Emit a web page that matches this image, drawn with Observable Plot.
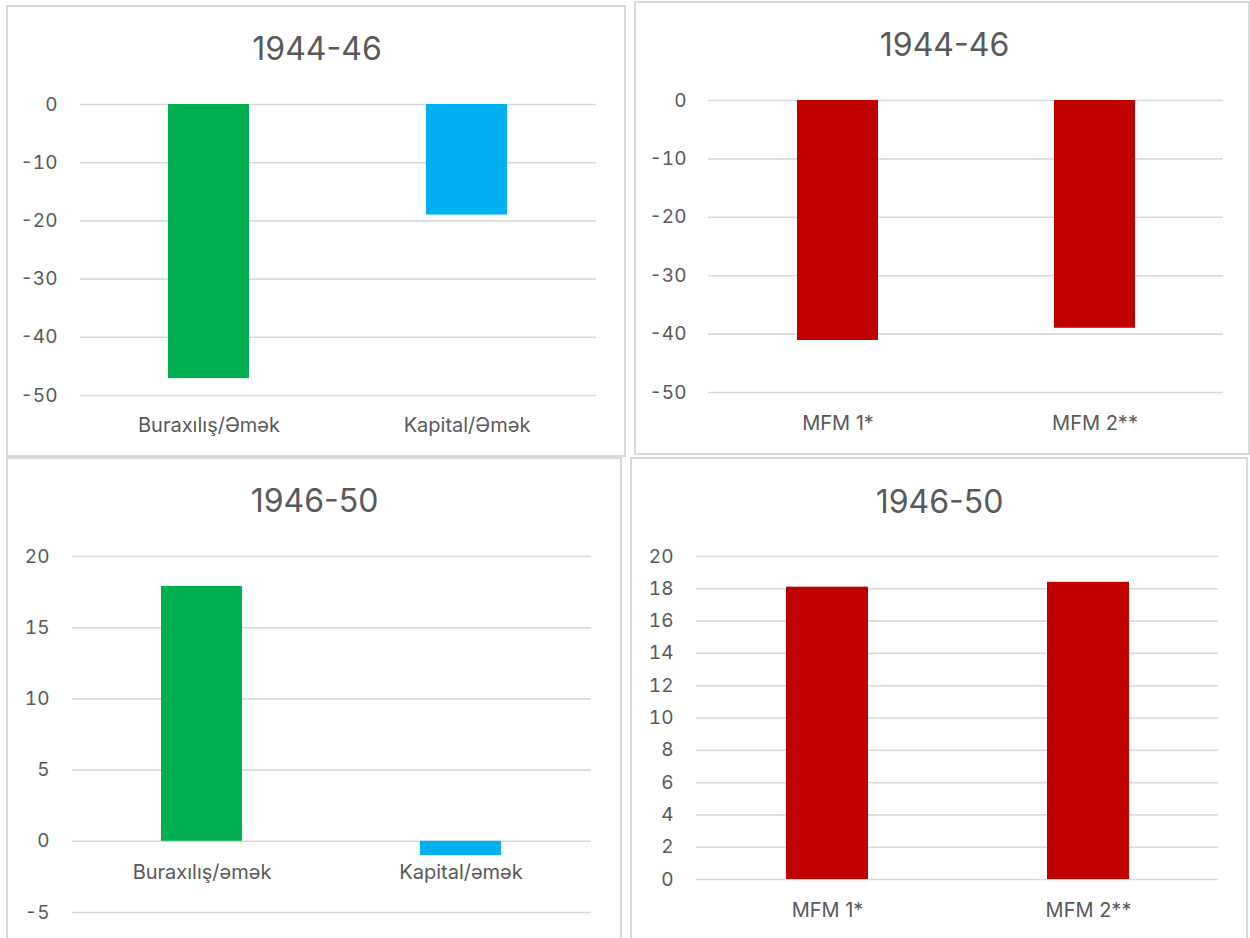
<!DOCTYPE html>
<html>
<head>
<meta charset="utf-8">
<script src="https://cdn.jsdelivr.net/npm/d3@7"></script>
<script src="https://cdn.jsdelivr.net/npm/@observablehq/plot@0.6"></script>
<style>
  html, body { margin: 0; padding: 0; background: #fff; width: 1250px; height: 938px; overflow: hidden; }
  #root { position: relative; width: 1250px; height: 938px; overflow: hidden; }
  .frame { position: absolute; box-sizing: border-box; border: 2px solid #d9d9d9; background: #fff; }
  .title { position: absolute; font-family: Inter, Roboto, sans-serif; font-size: 32px; line-height: 32px; color: #595959; transform: translateX(-50%); white-space: nowrap; }
  .plot { position: absolute; }
</style>
</head>
<body>
<div id="root"></div>
<script>
// ---- data ----
const titles = ["1944-46", "1944-46", "1946-50", "1946-50"];

const catsP1 = ["Buraxılış/Əmək", "Kapital/Əmək"];
const valsP1 = [-47.1, -19.0];
const colsP1 = ["#00B050", "#00B0F0"];
const ticksP1 = [0, -10, -20, -30, -40, -50];

const catsP2 = ["MFM 1*", "MFM 2**"];
const valsP2 = [-41.1, -39.0];
const colsP2 = ["#C00000", "#C00000"];
const ticksP2 = [0, -10, -20, -30, -40, -50];

const catsP3 = ["Buraxılış/əmək", "Kapital/əmək"];
const valsP3 = [17.9, -1.0];
const colsP3 = ["#00B050", "#00B0F0"];
const ticksP3 = [20, 15, 10, 5, 0, -5];

const catsP4 = ["MFM 1*", "MFM 2**"];
const valsP4 = [18.1, 18.4];
const colsP4 = ["#C00000", "#C00000"];
const ticksP4 = [20, 18, 16, 14, 12, 10, 8, 6, 4, 2, 0];

// ---- layout ----
const root = document.getElementById("root");
const FONT = "Inter, Roboto, sans-serif";
const TXT = "#595959";

function addFrame(l, t, w, h) {
  const d = document.createElement("div");
  d.className = "frame";
  Object.assign(d.style, {left: l + "px", top: t + "px", width: w + "px", height: h + "px"});
  root.appendChild(d);
}
function addTitle(text, cx, cy) {
  const d = document.createElement("div");
  d.className = "title";
  d.textContent = text;
  Object.assign(d.style, {left: cx + "px", top: (cy - 16) + "px"});
  root.appendChild(d);
}

function makePanel(cfg) {
  const data = cfg.cats.map((c, i) => ({cat: c, value: cfg.vals[i], color: cfg.cols[i]}));
  const domain = d3.extent(cfg.ticks);
  const marks = [
    Plot.ruleY(cfg.ticks, {stroke: "#d9d9d9", strokeWidth: 1.6}),
    Plot.barY(data, {x: "cat", y1: 0, y2: "value", fill: "color"}),
    Plot.axisY({ticks: cfg.ticks, tickSize: 0, tickPadding: cfg.tickPad, fontSize: 19, fill: TXT, tickFormat: d => String(d)}),
  ];
  if (cfg.labelAtZero) {
    marks.push(Plot.text(data, {x: "cat", y: () => 0, text: "cat", lineAnchor: "top", dy: cfg.labelPad, fontSize: 20, fill: TXT, style: "letter-spacing:0.6px"}));
  } else {
    marks.push(Plot.axisX({tickSize: 0, tickPadding: cfg.labelPad, fontSize: 20, fill: TXT, style: "letter-spacing:0.6px"}));
  }
  const svg = Plot.plot({
    width: cfg.width, height: cfg.height,
    marginLeft: cfg.mL, marginRight: cfg.mR, marginTop: cfg.mT, marginBottom: cfg.mB,
    style: {fontFamily: FONT, color: TXT, background: "transparent", overflow: "visible"},
    x: {domain: cfg.cats, paddingInner: 0.686, paddingOuter: 0.343, label: null, axis: null},
    y: {domain: domain, label: null, axis: null},
    color: {type: "identity"},
    marks
  });
  svg.classList.add("plot");
  Object.assign(svg.style, {left: cfg.left + "px", top: cfg.top + "px", position: "absolute"});
  root.appendChild(svg);
}

// frames
addFrame(6, 5, 620, 452);
addFrame(634, 1, 616, 454);
addFrame(6, 457, 616, 500);
addFrame(630, 457, 618, 500);

// titles
addTitle(titles[0], 317, 48.5);
addTitle(titles[1], 944.5, 45);
addTitle(titles[2], 314.5, 501);
addTitle(titles[3], 939.5, 501.5);

// panels
makePanel({cats: catsP1, vals: valsP1, cols: colsP1, ticks: ticksP1,
  left: 10, top: 60, width: 600, height: 390, mL: 70, mR: 14, mT: 44, mB: 55, tickPad: 23, labelPad: 22});
makePanel({cats: catsP2, vals: valsP2, cols: colsP2, ticks: ticksP2,
  left: 640, top: 60, width: 600, height: 390, mL: 68, mR: 17, mT: 40, mB: 58, tickPad: 22, labelPad: 23});
makePanel({cats: catsP3, vals: valsP3, cols: colsP3, ticks: ticksP3, labelAtZero: true,
  left: 10, top: 520, width: 600, height: 418, mL: 62, mR: 19, mT: 36, mB: 26, tickPad: 23, labelPad: 23});
makePanel({cats: catsP4, vals: valsP4, cols: colsP4, ticks: ticksP4,
  left: 640, top: 520, width: 605, height: 418, mL: 56, mR: 27, mT: 36, mB: 59, tickPad: 23, labelPad: 23});
</script>
</body>
</html>
